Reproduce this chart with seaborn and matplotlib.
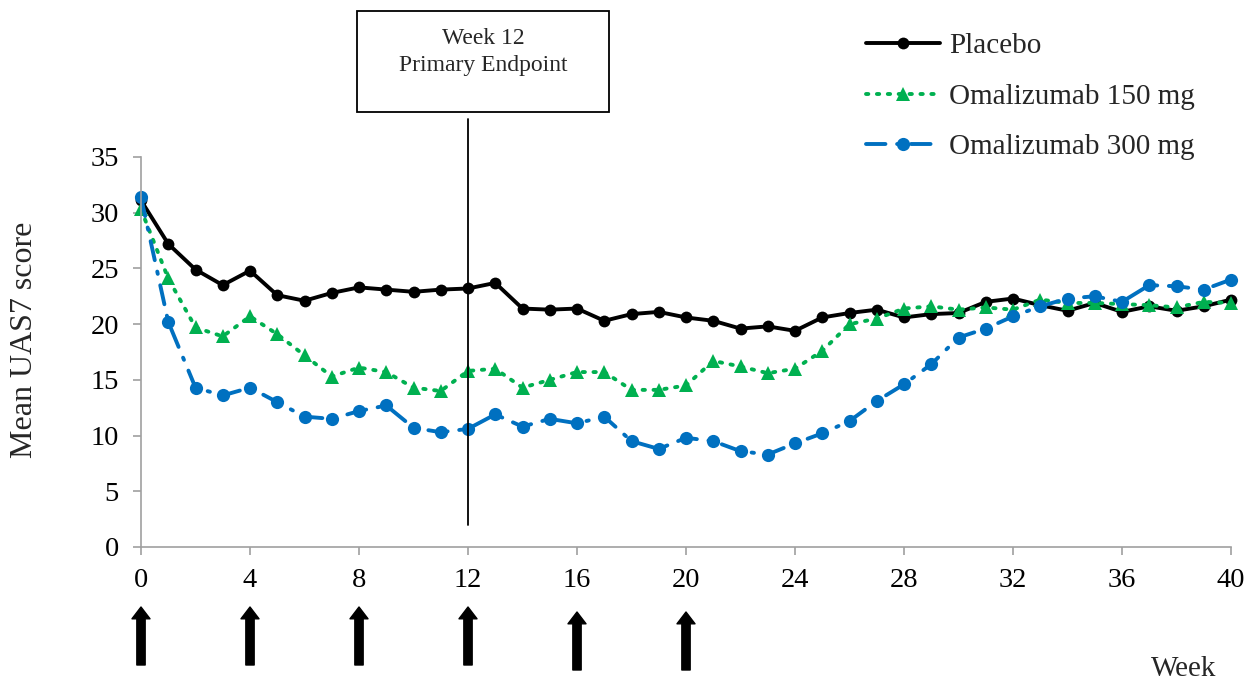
import matplotlib
matplotlib.use("Agg")
import matplotlib.pyplot as plt
from matplotlib.patches import Rectangle
import numpy as np
import pandas as pd
import seaborn as sns

# Weekly mean UAS7 scores, weeks 0-40
weeks = list(range(0, 41))

placebo = [31.1, 27.2, 24.9, 23.5, 24.8, 22.6, 22.1, 22.8, 23.3, 23.1,
           22.9, 23.1, 23.2, 23.7, 21.4, 21.3, 21.4, 20.3, 20.9, 21.1,
           20.6, 20.3, 19.6, 19.8, 19.4, 20.6, 21.0, 21.3, 20.6, 20.9,
           21.0, 22.0, 22.3, 21.7, 21.2, 21.9, 21.1, 21.6, 21.2, 21.6,
           22.2]

oma150 = [30.3, 24.1, 19.7, 18.9, 20.7, 19.1, 17.2, 15.3, 16.1, 15.7,
          14.3, 14.0, 15.8, 16.0, 14.3, 15.0, 15.7, 15.7, 14.1, 14.1,
          14.5, 16.7, 16.2, 15.6, 16.0, 17.6, 20.0, 20.5, 21.4, 21.6,
          21.3, 21.5, 21.3, 22.2, 21.9, 21.9, 21.8, 21.7, 21.5, 22.0,
          21.9]

oma300 = [31.4, 20.2, 14.3, 13.6, 14.3, 13.0, 11.7, 11.5, 12.2, 12.7,
          10.7, 10.3, 10.6, 11.9, 10.8, 11.5, 11.1, 11.7, 9.5, 8.8,
          9.8, 9.5, 8.6, 8.3, 9.3, 10.2, 11.3, 13.1, 14.6, 16.4,
          18.8, 19.6, 20.7, 21.6, 22.3, 22.5, 22.0, 23.5, 23.4, 23.1,
          24.0]

series_names = ["Placebo", "Omalizumab 150 mg", "Omalizumab 300 mg"]
dose_weeks = [0, 4, 8, 12, 16, 20]
x_ticks = list(range(0, 41, 4))
y_ticks = list(range(0, 36, 5))
endpoint_week = 12

sns.set_theme(style="white")
plt.rcParams["font.family"] = ["Liberation Serif", "DejaVu Serif"]

W, H = 1251, 682
fig = plt.figure(figsize=(W / 100, H / 100), dpi=100)
ax = fig.add_axes([141 / W, 1 - 547 / H, 1090 / W, 390 / H])

df = pd.DataFrame({"week": weeks, series_names[0]: placebo,
                   series_names[1]: oma150, series_names[2]: oma300})

styles = {
    series_names[0]: dict(color="black", marker="o", markersize=8.5,
                          linewidth=2.8, linestyle="-"),
    series_names[1]: dict(color="#00B050", marker="^", markersize=9.5,
                          linewidth=2.8, linestyle=(0, (0.6, 2.2)),
                          dash_capstyle="round"),
    series_names[2]: dict(color="#0070C0", marker="o", markersize=9.5,
                          linewidth=2.8, linestyle=(0, (5, 3, 0.6, 3)),
                          dash_capstyle="round"),
}

for name in series_names:
    sns.lineplot(data=df, x="week", y=name, ax=ax, label=name,
                 markeredgewidth=0, clip_on=False, **styles[name])

ax.set_xlim(0, 40)
ax.set_ylim(0, 35)
ax.set_xticks(x_ticks)
ax.set_yticks(y_ticks)
ax.set_xlabel("")
ax.set_ylabel("Mean UAS7 score", fontsize=23)
ax.yaxis.set_label_coords(-0.094, 0.53)

for side in ("top", "right"):
    ax.spines[side].set_visible(False)
for side in ("left", "bottom"):
    ax.spines[side].set_color("#A0A0A0")
    ax.spines[side].set_linewidth(1.2)
ax.tick_params(axis="both", which="major", direction="out", length=6,
               width=1.2, color="#A0A0A0", labelsize=20.5, labelcolor="black",
               left=True, bottom=True)
ax.tick_params(axis="y", pad=10)
ax.tick_params(axis="x", pad=9)

# Primary endpoint marker line and box
ax.plot([endpoint_week, endpoint_week], [2.0, 38.4], color="black",
        linewidth=1.3, clip_on=False)
fig.add_artist(Rectangle((357 / W, 1 - 112 / H), 252 / W, 101 / H,
                         transform=fig.transFigure, fill=False,
                         edgecolor="black", linewidth=1.3))
fig.text(483 / W, 1 - 38 / H, "Week 12", ha="center", va="center",
         fontsize=17)
fig.text(483 / W, 1 - 65 / H, "Primary Endpoint", ha="center", va="center",
         fontsize=17)

# Dosing arrows beneath the axis
for wk in dose_weeks:
    drop = 5 if wk >= 16 else 0
    ax.annotate("", xy=(wk, 1 - (607 + drop) / H),
                xytext=(wk, 1 - (665 + drop) / H),
                xycoords=("data", "figure fraction"),
                textcoords=("data", "figure fraction"),
                arrowprops=dict(facecolor="black", edgecolor="black",
                                width=6.0, headwidth=13, headlength=8.5,
                                shrink=0),
                annotation_clip=False)

fig.text(1184 / W, 1 - 669 / H, "Week", ha="center", va="center",
         fontsize=21)

leg = ax.legend(loc="upper left", bbox_to_anchor=(866 / W, 1 - 33 / H),
                bbox_transform=fig.transFigure, frameon=False, fontsize=21,
                handlelength=2.55, handletextpad=0.3, labelspacing=0.82,
                borderpad=0, borderaxespad=0)

fig.savefig("out.png", dpi=100)
